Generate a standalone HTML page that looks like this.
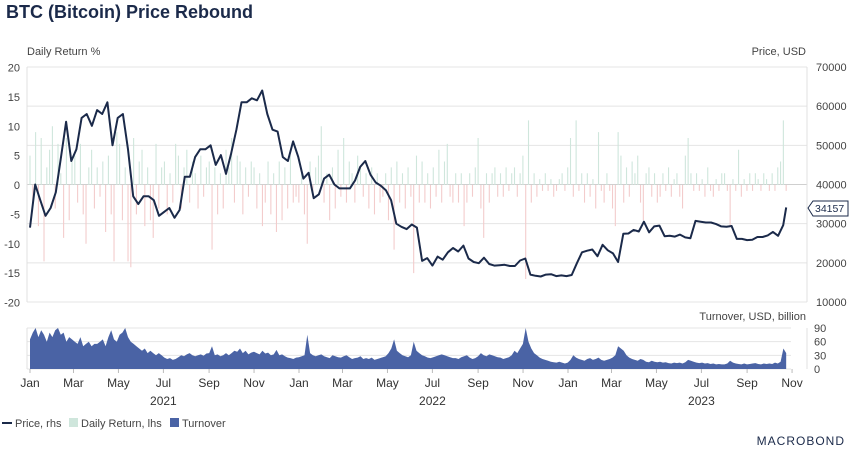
<!DOCTYPE html>
<html><head><meta charset="utf-8"><style>
body{margin:0;background:#fff;width:850px;height:453px;overflow:hidden;font-family:"Liberation Sans",sans-serif}
svg{display:block}
</style></head><body>
<svg id="c" width="850" height="453">
<text x="6" y="18" font-size="18" font-weight="bold" fill="#1b2a4a">BTC (Bitcoin) Price Rebound</text>
<text x="27" y="55" font-size="11" fill="#444">Daily Return %</text>
<text x="806" y="55" font-size="11" fill="#444" text-anchor="end">Price, USD</text>
<text x="806" y="320" font-size="11" fill="#444" text-anchor="end">Turnover, USD, billion</text>
<g id="grid"></g><g id="ret"></g><g id="turn"></g><g id="price"></g><g id="axes"></g>
<g>
<line x1="2" y1="423" x2="12" y2="423" stroke="#1b2a4a" stroke-width="2"/>
<text x="15" y="427" font-size="11" fill="#444">Price, rhs</text>
<rect x="69" y="418" width="9" height="9" fill="#cfe6dc"/>
<text x="81" y="427" font-size="11" fill="#444">Daily Return, lhs</text>
<rect x="170" y="418" width="9" height="9" fill="#4a63a5"/>
<text x="182" y="427" font-size="11" fill="#444">Turnover</text>
</g>
<text x="845" y="445" font-size="12" fill="#1b2a4a" text-anchor="end" letter-spacing="1">MACROBOND</text>
<g>
<path d="M808 208 L813 201 L848 201 L848 216 L813 216 Z" fill="#fff" stroke="#1b2a4a" stroke-width="1"/>
<text x="815" y="212" font-size="10.5" fill="#1b2a4a">34157</text>
</g>
</svg>
<script>
const prices=[29000,40000,36000,32000,34000,38000,47000,56000,46000,49000,57000,58000,55000,59000,58000,61000,50000,57000,58000,49000,37000,35000,37000,37000,36000,32000,33000,34000,31500,33500,42000,42000,47000,49000,49000,50000,45000,47500,42700,48000,54000,61000,61000,62000,61500,64000,58000,54000,53500,47000,46000,51000,47000,
41500,43000,36500,37500,41500,42500,40000,39000,39000,39000,41000,44500,46000,42500,40500,39700,38500,36000,30000,29200,28600,29800,29000,20500,21200,19300,21600,20800,22700,23800,22900,24400,21100,20200,19900,21300,19700,19300,19400,19500,19200,19200,20600,21100,17000,16700,16500,17000,17100,16600,16800,16600,
16900,19900,22700,23100,23400,21700,24600,23200,22400,20200,27400,27500,28400,28000,30500,27800,29300,29500,26800,26900,26700,27200,26500,26300,30700,30500,30300,30300,29900,29300,29200,29400,26100,26100,25800,25900,26600,26600,27000,27900,26900,29600];
const lastPrice=34157;
const lastDay=1026;
const returns=[5,-3,9,-7,8,-13,3,6,10,-4,7,2,-9,8,-6,4,5,-3,7,-5,-10,3,6,-4,3,-2,4,-8,5,-5,-13,9,7,-6,3,-13,-14,8,-5,4,6,-7,3,-6,-9,7,-4,3,4,-5,2,-3,7,5,-4,3,6,-3,4,2,-4,5,-2,3,4,-11,3,-5,2,-4,6,3,8,-3,5,4,-5,3,-2,4,3,-4,2,-7,-3,4,-5,2,-8,4,-6,3,-4,5,-3,-2,
-3,2,-5,-10,4,-2,3,5,10,-3,2,-6,3,-4,6,-2,8,-3,4,2,-3,5,3,-2,2,-4,3,-5,2,-3,-2,2,-6,3,-11,4,-3,2,-4,3,-2,-15,5,-3,4,-3,2,-4,3,-2,6,-3,4,7,-2,-3,2,-3,2,-7,-3,2,-2,3,8,-4,-9,2,-3,2,3,-2,2,-2,3,-1,2,3,-2,2,5,-16,11,-3,2,-2,1,-1,2,-1,1,-2,-1,1,2,-1,
3,8,-2,11,-1,2,-3,2,-2,1,-4,9,-1,-3,2,-1,-4,-7,9,5,-3,3,-2,4,2,5,-3,-6,2,3,-2,2,-3,-2,2,-1,3,-2,1,2,-2,-4,5,8,2,-1,2,-1,1,-2,3,-1,-2,1,-1,2,2,-1,-7,1,-1,6,-2,1,-1,2,-1,2,1,-1,2,1,-1,2,-1,3,4,11,-1];
const turnover=[65,80,90,70,85,75,60,80,70,85,90,75,80,60,70,65,60,55,70,50,55,60,50,55,55,60,65,50,70,85,65,60,75,80,90,70,60,55,50,45,40,45,35,40,35,30,35,30,25,22,24,20,22,26,30,28,32,35,30,28,30,32,29,34,35,50,30,32,28,30,35,30,35,40,38,45,35,40,32,36,38,35,32,40,34,36,30,32,42,30,32,28,25,24,22,25,
26,28,30,75,35,30,28,30,32,28,26,24,30,28,26,25,28,30,26,22,24,25,28,22,24,22,25,20,22,24,26,28,35,45,65,40,35,30,28,26,30,60,40,35,30,28,25,24,26,28,30,32,30,28,26,24,24,22,26,28,30,25,22,24,28,35,30,28,32,30,28,26,25,22,24,26,30,40,35,45,55,90,60,45,35,30,25,22,20,18,16,15,14,16,14,12,
14,20,30,25,22,20,18,22,24,20,22,25,20,18,20,22,25,30,50,45,40,30,25,22,20,18,22,20,16,15,18,16,15,16,14,15,13,12,14,13,14,12,15,20,18,16,14,13,14,12,13,11,12,10,11,10,10,12,18,14,12,11,10,12,10,11,12,13,11,10,12,11,12,11,14,12,16,45,35];
const leftTicks=[20,15,10,5,0,-5,-10,-15,-20];
const rightTicks=[70000,60000,50000,40000,30000,20000,10000];
const turnTicks=[90,60,30,0];
const monthLabels=["Jan","Mar","May","Jul","Sep","Nov"];
const years=[2021,2022,2023];

const X0=30,PXD=0.737;
const xd=d=>X0+d*PXD;
const yL=v=>185-v*5.875;
const yR=v=>67+(70000-v)/60000*235;
const yT=v=>369-v/90*41;
const NS="http://www.w3.org/2000/svg";
function mk(p,t,a){const e=document.createElementNS(NS,t);for(const k in a)e.setAttribute(k,a[k]);document.getElementById(p).appendChild(e);return e;}

leftTicks.forEach(v=>{
 const t=mk('axes','text',{x:20,y:yL(v)+4,'font-size':11,fill:'#444','text-anchor':'end'});
 t.textContent=v;
 
 
});
rightTicks.forEach(v=>{
 const l=mk('grid','line',{x1:27,x2:807,y1:yR(v),y2:yR(v),stroke:v===40000?'#cfcfcf':'#e4e4e4','stroke-width':1});
 
 
 const t=mk('axes','text',{x:816,y:yR(v)+4,'font-size':11,fill:'#444'});
 t.textContent=v;
 
 
});
mk('axes','line',{x1:27,x2:27,y1:67,y2:302,stroke:'#e0e0e0'});
mk('axes','line',{x1:807,x2:807,y1:67,y2:302,stroke:'#e0e0e0'});
turnTicks.forEach(v=>{
 const l=mk('grid','line',{x1:27,x2:791,y1:yT(v),y2:yT(v),stroke:'#e4e4e4'});
 
 
 const t=mk('axes','text',{x:814,y:yT(v)+4,'font-size':11,fill:'#444'});
 t.textContent=v;
 
 
});
mk('axes','line',{x1:27,x2:27,y1:328,y2:369,stroke:'#e0e0e0'});
mk('axes','line',{x1:807,x2:807,y1:328,y2:369,stroke:'#e0e0e0'});

const rn=returns.length;
returns.forEach((v,i)=>{
 const x=xd(i*lastDay/(rn-1));
 const r=mk('ret','line',{x1:x,x2:x,y1:yL(0),y2:yL(v),stroke:v>=0?'#cfe6dc':'#f3cccc','stroke-width':1.1});
 
 
});
const tn=turnover.length;
let tp='M'+xd(0)+' '+yT(0);
turnover.forEach((v,i)=>{tp+=' L'+xd(i*lastDay/(tn-1)).toFixed(1)+' '+yT(v).toFixed(1);});
tp+=' L'+xd(lastDay)+' '+yT(0)+' Z';
const ta=mk('turn','path',{d:tp,fill:'#4a63a5'});



let pp='';
prices.forEach((v,i)=>{pp+=(i?' L':'M')+xd(i*7).toFixed(1)+' '+yR(v).toFixed(1);});
pp+=' L'+xd(lastDay).toFixed(1)+' '+yR(lastPrice).toFixed(1);
const pl=mk('price','path',{d:pp,fill:'none',stroke:'#1b2a4a','stroke-width':2,'stroke-linejoin':'round'});



const mdays=[0,59,120,181,243,304];
years.forEach((y,yi)=>{
 monthLabels.forEach((m,mi)=>{
  const d=yi*365+mdays[mi];
  if(d>1050)return;
  const x=xd(d);
  mk('axes','line',{x1:x,x2:x,y1:369,y2:373,stroke:'#bbb'});
  const t=mk('axes','text',{x:x,y:387,'font-size':12,fill:'#333','text-anchor':'middle'});
  t.textContent=m;
  
  
 });
 const t=mk('axes','text',{x:xd(yi*365+181),y:405,'font-size':12,fill:'#333','text-anchor':'middle'});
 t.textContent=y;
 
 
});
</script>
</body></html>
